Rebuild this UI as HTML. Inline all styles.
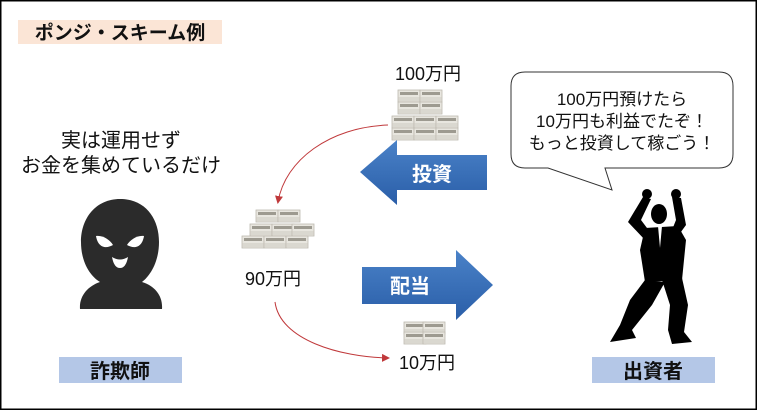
<!DOCTYPE html>
<html><head><meta charset="utf-8"><style>
html,body{margin:0;padding:0;background:#fff}
body{width:757px;height:410px;overflow:hidden;font-family:"Liberation Sans","Noto Sans CJK JP",sans-serif}
</style></head><body>
<svg width="757" height="410" viewBox="0 0 757 410" xmlns="http://www.w3.org/2000/svg" font-family="Liberation Sans, Noto Sans CJK JP, sans-serif">
<defs>
<linearGradient id="bl" x1="0" y1="0" x2="0" y2="1"><stop offset="0" stop-color="#4a82c8"/><stop offset="1" stop-color="#2a5ea8"/></linearGradient>
<marker id="ar" markerWidth="8" markerHeight="8" refX="6" refY="4" orient="auto" markerUnits="userSpaceOnUse"><path d="M0,0 L8,4 L0,8 z" fill="#c0393b"/></marker>
<g id="bill"><rect x="0" y="0" width="22" height="12" fill="#e8e6df" stroke="#bdbab0" stroke-width="0.8"/><rect x="2" y="2" width="18" height="3" fill="#9d9a90"/><line x1="0" y1="8" x2="22" y2="8" stroke="#ccc9c0"/><line x1="0" y1="10" x2="22" y2="10" stroke="#ccc9c0"/></g>
</defs>
<rect x="0.5" y="0.5" width="756" height="409" fill="#fff" stroke="#000" stroke-width="2"/>
<rect x="18" y="20" width="204" height="24" fill="#fbe5d6"/>
<text x="120" y="39" font-size="19" font-weight="bold" text-anchor="middle" fill="#111">ポンジ・スキーム例</text>
<text x="121" y="147" font-size="20" text-anchor="middle" fill="#111">実は運用せず</text>
<text x="121" y="172" font-size="20" text-anchor="middle" fill="#111">お金を集めているだけ</text>
<!-- hooded figure -->
<path d="M120,199 C145,199 159,218 159,242 C159,262 150,276 142,282 C155,286 163,296 162,309 L80,309 C79,296 88,286 100,282 C90,276 81,262 81,242 C81,218 96,199 120,199 Z" fill="#2b2b2b"/>
<path d="M96,236 C103,235 110,240 113,245 C106,249 98,248 96,236 Z" fill="#fff"/>
<path d="M144,236 C137,235 130,240 127,245 C134,249 142,248 144,236 Z" fill="#fff"/>
<path d="M112,257 Q120,262 128,257 Q126,268 120,268 Q114,268 112,257 Z" fill="#fff"/>
<rect x="59" y="357" width="123" height="26" fill="#b4c7e7"/>
<text x="120" y="378" font-size="20" font-weight="bold" text-anchor="middle" fill="#111">詐欺師</text>
<rect x="592" y="357" width="123" height="26" fill="#b4c7e7"/>
<text x="653" y="378" font-size="20" font-weight="bold" text-anchor="middle" fill="#111">出資者</text>
<!-- money piles -->
<g>
<use href="#bill" x="398" y="90"/><use href="#bill" x="420" y="90"/>
<use href="#bill" x="398" y="102"/><use href="#bill" x="420" y="102"/>
<use href="#bill" x="392" y="116"/><use href="#bill" x="414" y="116"/><use href="#bill" x="436" y="116"/>
<use href="#bill" x="392" y="128"/><use href="#bill" x="414" y="128"/><use href="#bill" x="436" y="128"/>
</g>
<g>
<use href="#bill" x="256" y="210"/><use href="#bill" x="278" y="210"/>
<use href="#bill" x="250" y="224"/><use href="#bill" x="272" y="224"/><use href="#bill" x="292" y="224"/>
<use href="#bill" x="242" y="236"/><use href="#bill" x="264" y="236"/><use href="#bill" x="286" y="236"/>
</g>
<g><use href="#bill" x="404" y="322"/><use href="#bill" x="423" y="322"/><use href="#bill" x="404" y="332"/><use href="#bill" x="423" y="332"/></g>
<text x="428" y="80" font-size="18" text-anchor="middle" fill="#111">100万円</text>
<text x="273" y="285" font-size="18" text-anchor="middle" fill="#111">90万円</text>
<text x="427" y="369" font-size="18" text-anchor="middle" fill="#111">10万円</text>
<!-- red curves -->
<path d="M388,125 C330,127 285,160 278,202" fill="none" stroke="#c0393b" stroke-width="1" marker-end="url(#ar)"/>
<path d="M275,302 C280,340 340,357 388,358" fill="none" stroke="#c0393b" stroke-width="1" marker-end="url(#ar)"/>
<!-- blue arrows -->
<path d="M360,172 L397,140 L397,155 L487,155 L487,190 L397,190 L397,205 Z" fill="url(#bl)"/>
<text x="432" y="181" font-size="20" font-weight="bold" text-anchor="middle" fill="#fff">投資</text>
<path d="M362,267 L456,267 L456,250 L493,285 L456,320 L456,304 L362,304 Z" fill="url(#bl)"/>
<text x="410" y="293" font-size="20" font-weight="bold" text-anchor="middle" fill="#fff">配当</text>
<!-- speech bubble -->
<path d="M525,72 L719,72 Q733,72 733,86 L733,154 Q733,168 719,168 L605,168 L612,190 L548,168 L525,168 Q511,168 511,154 L511,86 Q511,72 525,72 Z" fill="#fff" stroke="#333" stroke-width="1"/>
<text x="622" y="105" font-size="17" text-anchor="middle" fill="#111">100万円預けたら</text>
<text x="622" y="127" font-size="17" text-anchor="middle" fill="#111">10万円も利益でたぞ！</text>
<text x="622" y="149" font-size="17" text-anchor="middle" fill="#111">もっと投資して稼ごう！</text>
<!-- man -->
<g fill="#000">
<circle cx="647" cy="194" r="5"/><circle cx="676" cy="194" r="5"/>
<path d="M643,197 L651,199 L641,220 L650,232 L645,240 L628,222 Z"/>
<path d="M672,197 L681,198 L686,225 L678,236 L672,230 L676,220 Z"/>
<ellipse cx="659" cy="214" rx="8" ry="10"/>
<path d="M645,228 L678,226 L686,240 L682,280 L645,282 L640,250 Z"/>
<path d="M645,280 L665,282 L652,305 L632,330 L636,338 L610,342 L620,325 L630,300 Z"/>
<path d="M662,280 L682,278 L688,305 L684,332 L692,342 L672,344 L668,330 L670,305 Z"/>
</g>
<path d="M658,226 L662,226 L660,248 Z" fill="#fff"/>
</svg>
</body></html>
